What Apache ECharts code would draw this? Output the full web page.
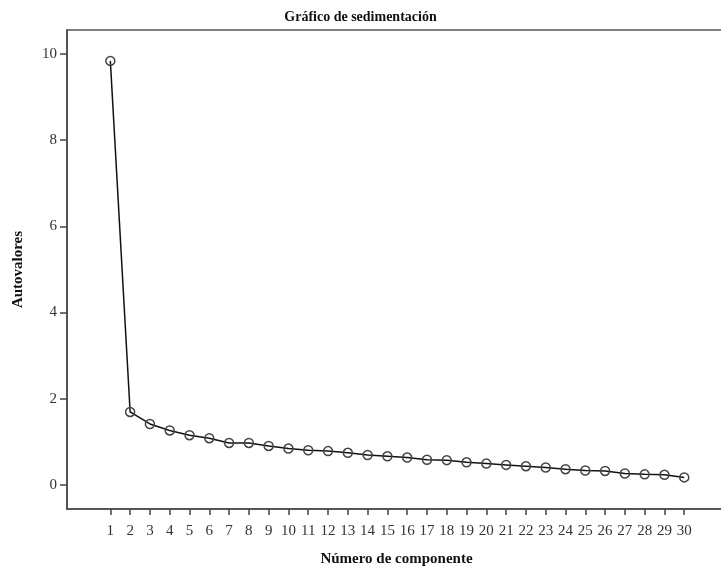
<!DOCTYPE html>
<html>
<head>
<meta charset="utf-8">
<script src="https://cdn.jsdelivr.net/npm/echarts@6/dist/echarts.min.js"></script>
<style>
  html, body { margin: 0; padding: 0; background: #fff; }
  #chart { width: 721px; height: 571px; }
</style>
</head>
<body>
<div id="chart"></div>
<script>
// número de componente
var components = [1, 2, 3, 4, 5, 6, 7, 8, 9, 10, 11, 12, 13, 14, 15,
  16, 17, 18, 19, 20, 21, 22, 23, 24, 25, 26, 27, 28, 29, 30];
// autovalores
var eigenvalues = [9.84, 1.69, 1.41, 1.26, 1.15, 1.08, 0.97, 0.97, 0.90, 0.84,
  0.80, 0.78, 0.74, 0.69, 0.66, 0.63, 0.58, 0.57, 0.52, 0.49,
  0.46, 0.43, 0.40, 0.36, 0.33, 0.32, 0.26, 0.24, 0.23, 0.17];
var yTicks = [0, 2, 4, 6, 8, 10];

var serif = "'Liberation Serif', 'Times New Roman', serif";

var chart = echarts.init(document.getElementById("chart"));

chart.setOption({
  animation: false,
  title: {
    text: "Gráfico de sedimentación",
    left: "center",
    top: 5,
    textStyle: { fontFamily: serif, fontSize: 14, fontWeight: "bold", color: "#111" },
  },
  grid: {
    left: 67,
    right: -5,
    top: 30,
    bottom: 62,
    outerBoundsMode: "none",
    containLabel: false,
    show: true,
    borderColor: "#555",
    borderWidth: 1.5,
  },
  xAxis: {
    type: "value",
    min: -1.19,
    max: 32.11,
    name: "Número de componente",
    nameLocation: "middle",
    nameGap: 43,
    nameTextStyle: { fontFamily: serif, fontSize: 15, fontWeight: "bold", color: "#111" },
    splitLine: { show: false },
    axisLine: { onZero: false, lineStyle: { color: "#555", width: 2 } },
    axisTick: { customValues: components, length: 6, lineStyle: { color: "#444", width: 1.5 } },
    axisLabel: {
      customValues: components,
      fontFamily: serif,
      fontSize: 15,
      color: "#333",
      margin: 15,
    },
  },
  yAxis: {
    type: "value",
    min: -0.564,
    max: 10.557,
    name: "Autovalores",
    nameLocation: "middle",
    nameGap: 41,
    nameTextStyle: { fontFamily: serif, fontSize: 15, fontWeight: "bold", color: "#111" },
    splitLine: { show: false },
    axisLine: { show: true, onZero: false, lineStyle: { color: "#555", width: 2 } },
    axisTick: { show: true, customValues: yTicks, length: 7, lineStyle: { color: "#444", width: 1.5 } },
    axisLabel: {
      customValues: yTicks,
      fontFamily: serif,
      fontSize: 15,
      color: "#333",
      margin: 10,
    },
  },
  series: [
    {
      type: "line",
      data: components.map(function (c, i) { return [c, eigenvalues[i]]; }),
      symbol: "circle",
      symbolSize: 9,
      lineStyle: { color: "#111", width: 1.5 },
      itemStyle: { color: "rgba(255,255,255,0)", borderColor: "#444", borderWidth: 1.5 },
      z: 3,
    },
  ],
});
</script>
</body>
</html>
